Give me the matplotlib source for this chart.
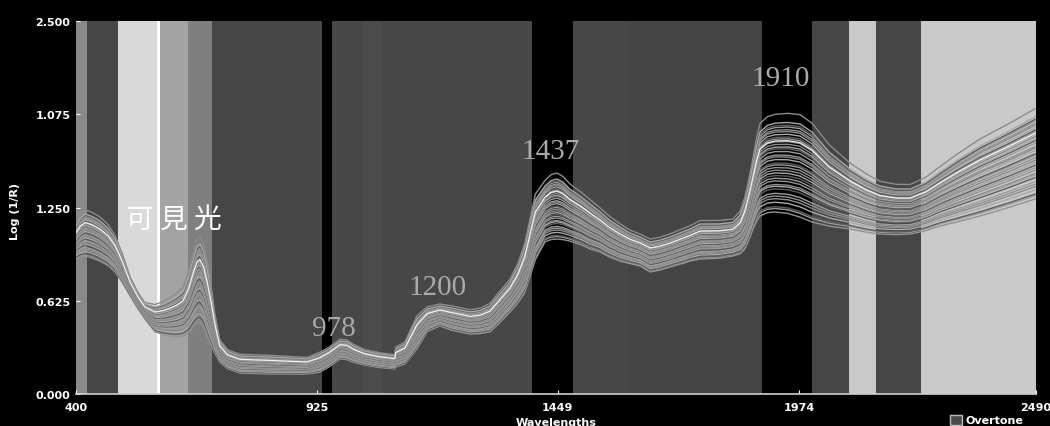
import matplotlib.pyplot as plt
from matplotlib.patches import Rectangle

plt.rcParams['font.family'] = ['DejaVu Sans']

# wavelength knots (nm) with the lower and upper edge of the spectra bundle, Log(1/R)
wl = [400, 410, 420, 435, 452, 470, 485, 500, 518, 535, 550, 572, 590, 605,
      620, 633, 645, 655, 663, 670, 678, 686, 694, 702, 713, 730, 757,
      822, 903, 931, 950, 975, 990, 1005, 1029, 1060, 1094, 1096, 1116, 1142,
      1165, 1192, 1220, 1258, 1280, 1301, 1320, 1345, 1362, 1377, 1400, 1421,
      1434, 1447, 1460, 1475, 1500, 1519, 1541, 1560, 1584, 1605, 1628, 1650,
      1670, 1693, 1715, 1737, 1758, 1800, 1830, 1846, 1856, 1866, 1874, 1882,
      1889, 1905, 1922, 1950, 1976, 2002, 2040, 2085, 2120, 2150, 2185, 2216,
      2250, 2281, 2320, 2368, 2430, 2488]
high = [1.126, 1.180, 1.206, 1.190, 1.160, 1.110, 1.039, 0.930, 0.771, 0.670,
        0.603, 0.583, 0.600, 0.623, 0.650, 0.684, 0.780, 0.900, 0.985, 1.005,
        0.950, 0.830, 0.690, 0.520, 0.350, 0.285, 0.255,
        0.248, 0.235, 0.268, 0.300, 0.355, 0.350, 0.320, 0.288, 0.268, 0.255,
        0.302, 0.335, 0.503, 0.570, 0.590, 0.575, 0.550, 0.560, 0.590, 0.660,
        0.751, 0.850, 0.980, 1.300, 1.394, 1.430, 1.441, 1.420, 1.374, 1.320,
        1.273, 1.220, 1.170, 1.119, 1.080, 1.052, 1.019, 1.030, 1.052, 1.080,
        1.106, 1.139, 1.140, 1.150, 1.200, 1.287, 1.420, 1.542, 1.670, 1.756,
        1.800, 1.815, 1.820, 1.810, 1.756, 1.620, 1.508, 1.440, 1.394, 1.375,
        1.374, 1.420, 1.488, 1.570, 1.662, 1.760, 1.857]
low = [0.905, 0.918, 0.925, 0.912, 0.891, 0.860, 0.818, 0.750, 0.657, 0.570,
       0.503, 0.416, 0.398, 0.389, 0.385, 0.389, 0.410, 0.450, 0.475, 0.480,
       0.450, 0.390, 0.330, 0.275, 0.214, 0.170, 0.141,
       0.134, 0.134, 0.147, 0.180, 0.235, 0.230, 0.212, 0.194, 0.178, 0.168,
       0.181, 0.201, 0.302, 0.420, 0.456, 0.425, 0.402, 0.405, 0.416, 0.470,
       0.550, 0.610, 0.680, 0.900, 1.020, 1.035, 1.039, 1.035, 1.025, 1.000,
       0.972, 0.952, 0.920, 0.891, 0.875, 0.858, 0.818, 0.830, 0.851, 0.870,
       0.891, 0.905, 0.910, 0.925, 0.940, 0.972, 1.040, 1.106, 1.160, 1.193,
       1.215, 1.220, 1.210, 1.186, 1.153, 1.125, 1.106, 1.085, 1.072, 1.068,
       1.072, 1.095, 1.126, 1.155, 1.193, 1.250, 1.307]

# where each sample sits between the lower and upper edge
sample_pos = [0.00, 0.04, 0.06, 0.11, 0.15, 0.18, 0.21, 0.26, 0.29, 0.31,
              0.35, 0.38, 0.41, 0.44, 0.47, 0.50, 0.53, 0.55, 0.59, 0.62,
              0.64, 0.68, 0.71, 0.73, 0.76, 0.79, 0.82, 0.84, 0.87, 0.90,
              0.92, 0.95, 0.97, 1.00, 1.10]
marked_pos = 0.80

# spectral regions shaded behind the spectra (nm start, nm end, shade)
regions = [(400, 424, '#8a8a8a'), (424, 491, '#464646'), (491, 576, '#d9d9d9'),
           (576, 583, '#ffffff'), (583, 644, '#a3a3a3'), (644, 696, '#7f7f7f'),
           (696, 936, '#464646'), (936, 958, '#000000'), (958, 1025, '#474747'),
           (1025, 1066, '#4c4c4c'), (1066, 1393, '#474747'), (1393, 1482, '#000000'),
           (1482, 1602, '#474747'), (1602, 1894, '#444444'), (1894, 2002, '#000000'),
           (2002, 2083, '#464646'), (2083, 2142, '#c9c9c9'), (2142, 2240, '#464646'),
           (2240, 2490, '#c9c9c9')]

peaks = ['978', '1200', '1437', '1910']
peak_xy = [(962, 0.44), (1186, 0.717), (1434, 1.629), (1933, 2.118)]

xticks = [400, 925, 1449, 1974, 2490]
yticks = [0.0, 0.625, 1.25, 1.875, 2.5]
ytick_labels = ['0.000', '0.625', '1.250', '1.075', '2.500']

fig = plt.figure(figsize=(10.5, 4.27), dpi=100, facecolor='black')
ax = fig.add_axes([0.0724, 0.0749, 0.9143, 0.8736])
ax.set_facecolor('black')

for a, b, c in regions:
    ax.axvspan(a, b, color=c, lw=0, zorder=0)

shades = ['#939393', '#9c9c9c', '#5e5e5e', '#a8a8a8', '#8c8c8c']
for i, w in enumerate(sample_pos):
    y = [lo + w * (hi - lo) for lo, hi in zip(low, high)]
    ax.plot(wl, y, color=shades[i % len(shades)], lw=1.0, zorder=2)
y = [lo + marked_pos * (hi - lo) for lo, hi in zip(low, high)]
ax.plot(wl, y, color='#f2f2f2', lw=0.9, zorder=3)

for s, (px, py) in zip(peaks, peak_xy):
    ax.text(px, py, s, color='#aaaaaa', fontsize=21, family='Liberation Serif',
            ha='center', va='center', zorder=4)
ax.text(613, 1.173, '可 見 光', color='white', fontsize=20,
        family=['Noto Sans CJK TC', 'DejaVu Sans'], ha='center', va='center', zorder=4)

ax.set_xlim(400, 2490)
ax.set_ylim(0, 2.5)
ax.set_xticks(xticks)
ax.set_xticklabels([str(t) for t in xticks])
ax.set_yticks(yticks)
ax.set_yticklabels(ytick_labels)
ax.tick_params(colors='white', labelsize=8, direction='in', length=3, pad=6)
ax.tick_params(axis='y', pad=4)
for lab in ax.get_xticklabels() + ax.get_yticklabels():
    lab.set_fontweight('bold')
for side in ['top', 'right', 'left']:
    ax.spines[side].set_visible(False)
ax.spines['bottom'].set_color('#d0d0d0')
ax.spines['bottom'].set_linewidth(1.2)

fig.text(0.53, 0.009, 'Wavelengths', color='white', fontsize=8, fontweight='bold',
         ha='center', va='center')
fig.text(15 / 1050, 1 - 212 / 427, 'Log (1/R)', color='white', fontsize=8,
         fontweight='bold', rotation=90, ha='center', va='center')

fig.patches.append(Rectangle((950 / 1050, 1 - 426 / 427), 12 / 1050, 10 / 427,
                             transform=fig.transFigure, facecolor='#4a4a4a',
                             edgecolor='#bbbbbb', lw=1))
fig.text(966 / 1050, 1 - 421 / 427, 'Overtone', color='white', fontsize=8,
         fontweight='bold', ha='left', va='center')

fig.savefig('out.png', dpi=100, facecolor='black')
